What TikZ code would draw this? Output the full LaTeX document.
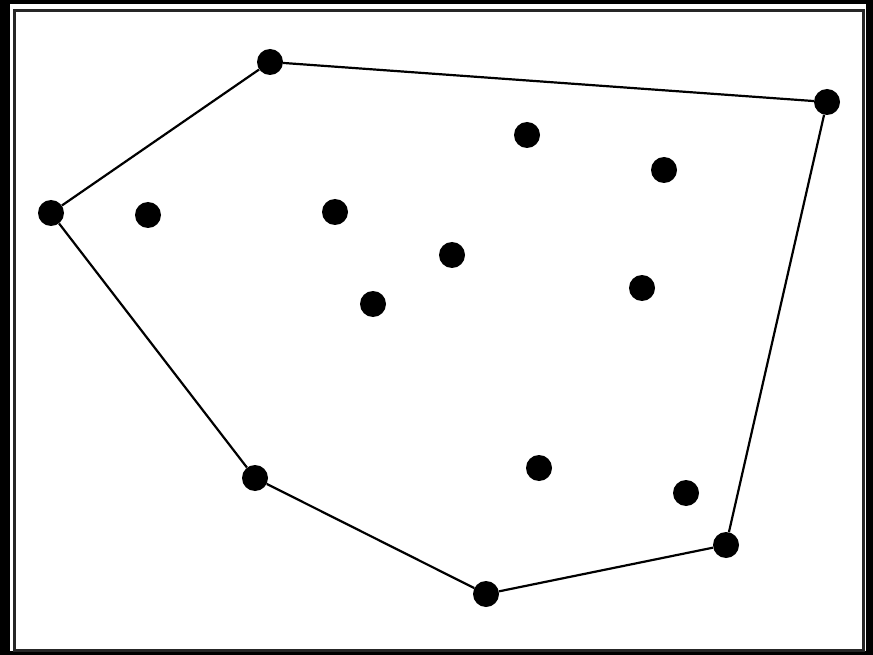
\documentclass[tikz,border=0pt]{standalone}
\begin{document}
\begin{tikzpicture}[x=1pt,y=-1pt,
   dot/.style={circle,fill=black,inner sep=0pt,minimum size=26pt},
   hull/.style={line width=2.2pt}]
   %frame
   \fill[black] (0,0) rectangle (873,655);
   \fill[white] (10,4) rectangle (866,651);
   \draw[line width=3pt,black!85] (14,11) rectangle (863,650);
   \useasboundingbox (0,0) rectangle (873,655);
   %hull points
   \node[dot] (h1) at (270,62) {};
   \node[dot] (h2) at (827,102) {};
   \node[dot] (h3) at (726,545) {};
   \node[dot] (h4) at (486,594) {};
   \node[dot] (h5) at (255,478) {};
   \node[dot] (h6) at (51,213) {};
   %inner points
   \node[dot] (i1) at (527,135) {};
   \node[dot] (i2) at (664,170) {};
   \node[dot] (i3) at (148,215) {};
   \node[dot] (i4) at (335,212) {};
   \node[dot] (i5) at (452,255) {};
   \node[dot] (i6) at (373,304) {};
   \node[dot] (i7) at (642,288) {};
   \node[dot] (i8) at (539,468) {};
   \node[dot] (i9) at (686,493) {};
   %hull
   \draw[hull] (h1) -- (h2);
   \draw[hull] (h2) -- (h3);
   \draw[hull] (h3) -- (h4);
   \draw[hull] (h4) -- (h5);
   \draw[hull] (h5) -- (h6);
   \draw[hull] (h6) -- (h1);
\end{tikzpicture}
\end{document}
